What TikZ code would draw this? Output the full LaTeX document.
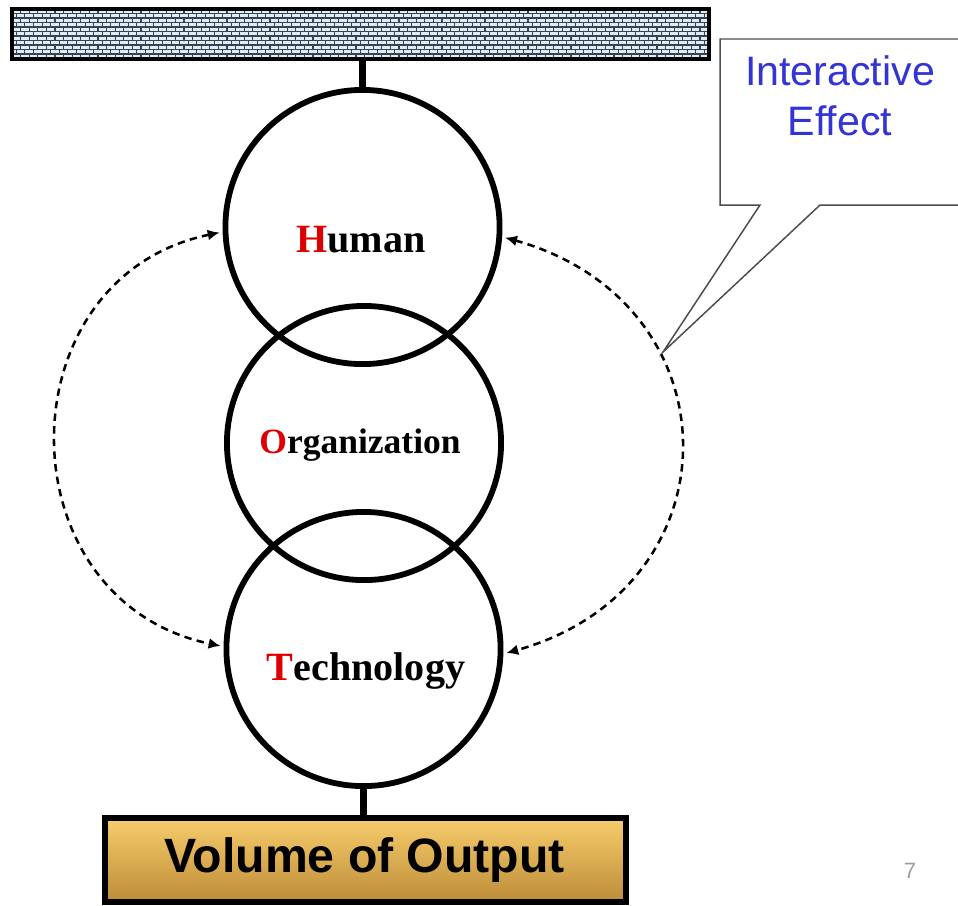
\documentclass[tikz,border=0pt]{standalone}
\usepackage{fontspec}
\setmainfont{Liberation Serif}
\newfontfamily\arialfont{Liberation Sans}
\usetikzlibrary{arrows.meta}

\definecolor{brickfill}{HTML}{DCEDFA}
\definecolor{mortar}{HTML}{3C424C}
\definecolor{goldtop}{HTML}{F7CD6C}
\definecolor{goldbot}{HTML}{BD8C38}
\definecolor{iblue}{RGB}{52,52,214}
\definecolor{hred}{RGB}{222,0,0}

\tikzset{
  ring/.style={circle, draw=black, line width=1.65pt, minimum size=2.74cm, inner sep=0pt},
  word/.style={anchor=base, inner sep=0pt, font=\fontsize{11.4pt}{13pt}\selectfont\bfseries},
  stub/.style={line width=2.1pt, black},
  loop/.style={black, line width=0.72pt, dash pattern=on 2.1pt off 1.5pt,
               shorten >=0.85pt, shorten <=0.85pt,
               {Latex[length=3.4pt,width=3.1pt]}-{Latex[length=3.4pt,width=3.1pt]}},
  balloon/.style={draw=black!70, line width=0.42pt, fill=white},
  balloontext/.style={anchor=base, inner sep=0pt, text=iblue,
                      font=\arialfont\fontsize{11.7pt}{14pt}\selectfont},
}

\begin{document}
\begin{tikzpicture}[x=0.01cm, y=-0.01cm]
  \useasboundingbox (0,0) rectangle (958,905);
  \clip (0,0) rectangle (958,905);

  % brick-patterned bar at the top
  \begin{scope}
    \clip (12,9) rectangle (709,59);
    \fill[brickfill] (12,9) rectangle (709,59);
    \foreach \r in {0,...,11} {
      \pgfmathsetmacro\yy{9+\r*4.5}
      \pgfmathsetmacro\off{mod(\r,2)*4.3}
      \draw[mortar, line width=0.3pt] (12,\yy) -- (709,\yy);
      \foreach \c in {0,...,82} {
        \draw[mortar, line width=0.3pt] ({12+\off+\c*8.6},\yy) -- ++(0,4.5);
      }
    }
  \end{scope}
  \node[draw=black, line width=1.25pt, minimum width=6.97cm, minimum height=0.50cm,
        inner sep=0pt] (bar) at (360.5,34) {};

  % the three overlapping rings
  \node[ring] (human) at (362.5,227) {};
  \node[ring] (org)   at (364,443) {};
  \node[ring] (tech)  at (363.5,649) {};

  \node[word] (humanlabel) at (361,252) {\textcolor{hred}{H}uman};
  \node[word, font=\fontsize{10.1pt}{12pt}\selectfont\bfseries] (orglabel) at (360,453)
        {\textcolor{hred}{O}rganization};
  \node[word] (techlabel) at (366,680) {\textcolor{hred}{T}echnology};

  % output box
  \node[draw=black, line width=1.7pt, minimum width=5.21cm, minimum height=0.84cm,
        inner sep=0pt, top color=goldtop, bottom color=goldbot] (output) at (365.5,860) {};
  \node[anchor=base, inner sep=0pt, font=\arialfont\bfseries\fontsize{13.7pt}{16pt}\selectfont]
        (outputlabel) at (364.5,872) {Volume of Output};

  % vertical links
  \draw[stub] (human.north) -- (human.north |- bar.south);
  \draw[stub] (tech.south) -- (tech.south |- output.north);

  % dashed interaction loops
  \draw[loop] (human.182) .. controls +(-221,46) and +(-221,-46) .. (tech.179);
  \draw[loop] (human.-4) .. controls +(236,66) and +(236,-66) .. (tech.-2);

  % speech balloon
  \coordinate (tip) at (663,352);
  \draw[balloon] (975,39) -- (720,39) -- (720,205) -- (760,205) -- (tip)
                 -- (820,205) -- (975,205);
  \node[balloontext] (ie1) at (840,85) {Interactive};
  \node[balloontext] (ie2) at (840,135) {Effect};

  % page number
  \node[anchor=base, inner sep=0pt, text=black!38, font=\arialfont\fontsize{6.3pt}{7pt}\selectfont]
        (pageno) at (910,878) {7};
\end{tikzpicture}
\end{document}
